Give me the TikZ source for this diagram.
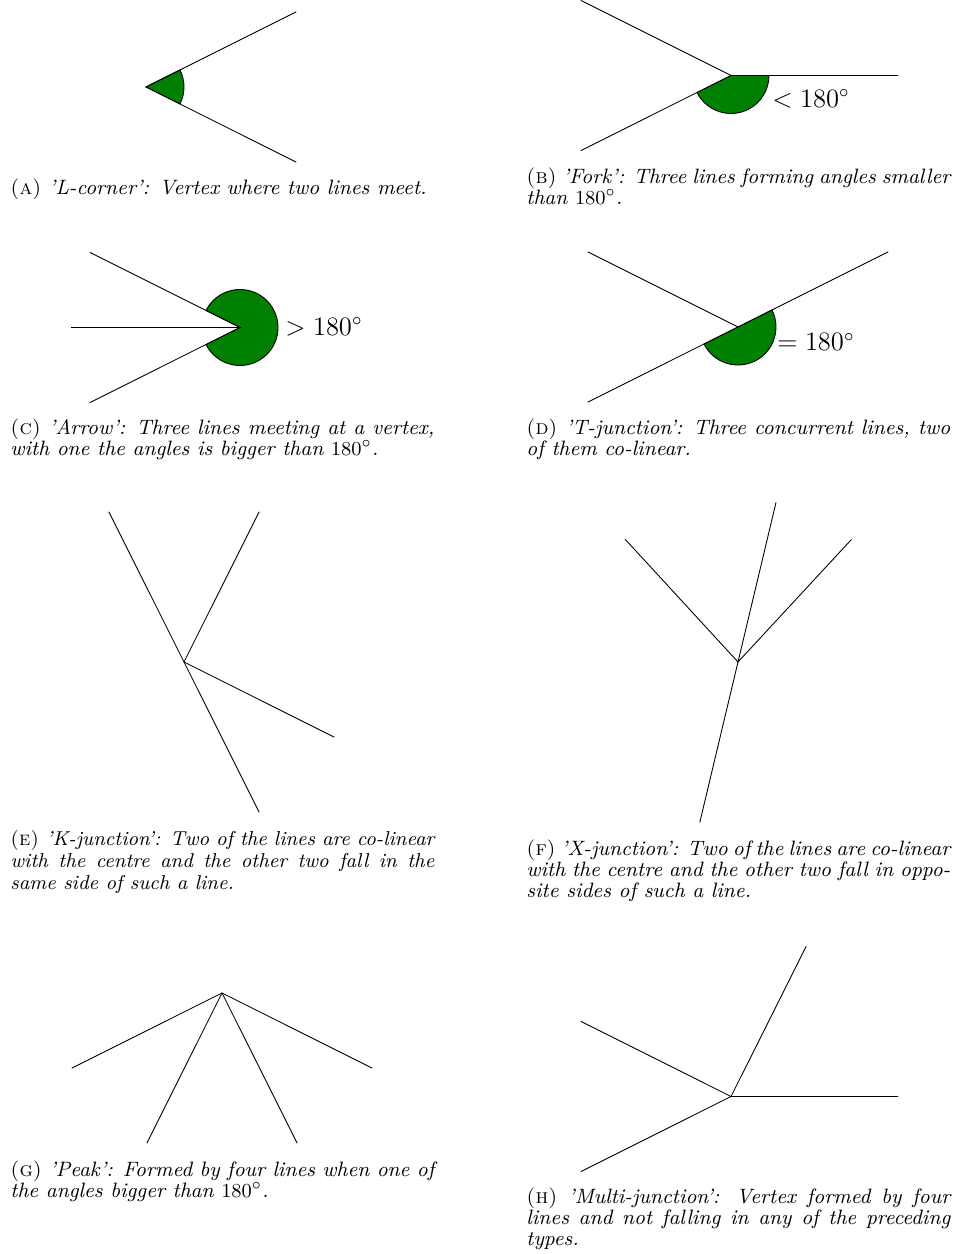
\documentclass[tikz,border=0pt]{standalone}
\usepackage{amsmath}
\usepackage{xcolor}
\definecolor{angfill}{RGB}{0,128,0}
\usetikzlibrary{calc}

\begin{document}
\begin{tikzpicture}[x=0.452pt, y=0.452pt]

% === Parámetros ===
\def\H{1254}   % alto total (px)
\def\L{168}    % largo de las líneas
\def\r{38}     % radio de los ángulos

\tikzset{
    edge/.style={black, line width=0.4pt},
    wedge/.style={fill=angfill, draw=black, line width=0.4pt},
    anglabel/.style={anchor=west, inner sep=0pt, font=\fontsize{12}{14}\selectfont},
    subcap/.style={anchor=north west, inner sep=0pt, text width=191.6pt,
        align=justify, font=\fontsize{9.4}{9.7}\selectfont\itshape}
}

\useasboundingbox (0,0) rectangle (956,\H);

% === (a) L-corner ===
\coordinate (A) at (146,{\H-87});
\coordinate (A1) at ([shift={(26.57:\L)}]A);
\coordinate (A2) at ([shift={(-26.57:\L)}]A);
\filldraw[wedge] (A) -- ([shift={(-26.57:\r)}]A) arc (-26.57:26.57:\r) -- cycle;
\draw[edge] (A1) -- (A) -- (A2);
\node[subcap] (capA) at (10,{\H-178})
    {\textup{\textsc{(a)}} 'L-corner': Vertex where two lines meet.};

% === (b) Fork ===
\coordinate (B) at (731,{\H-75.5});
\coordinate (B1) at ([shift={(0:167)}]B);
\coordinate (B2) at ([shift={(153.43:\L)}]B);
\coordinate (B3) at ([shift={(206.57:\L)}]B);
\filldraw[wedge] (B) -- ([shift={(206.57:\r)}]B) arc (206.57:360:\r) -- cycle;
\draw[edge] (B1) -- (B) -- (B2);
\draw[edge] (B) -- (B3);
\node[anglabel] (labB) at (772,{\H-99}) {$<180^\circ$};
\node[subcap] (capB) at (526,{\H-167})
    {\textup{\textsc{(b)}} 'Fork': Three lines forming angles smaller than $180^\circ$.};

% === (c) Arrow ===
\coordinate (C) at (240,{\H-327.5});
\coordinate (C1) at ([shift={(180:169)}]C);
\coordinate (C2) at ([shift={(153.43:\L)}]C);
\coordinate (C3) at ([shift={(206.57:\L)}]C);
\filldraw[wedge] (C) -- ([shift={(206.57:\r)}]C) arc (206.57:513.43:\r) -- cycle;
\draw[edge] (C1) -- (C) -- (C2);
\draw[edge] (C) -- (C3);
\node[anglabel] (labC) at (285,{\H-327}) {$>180^\circ$};
\node[subcap] (capC) at (10,{\H-418})
    {\textup{\textsc{(c)}} 'Arrow': Three lines meeting at a vertex, with one the angles is bigger than $180^\circ$.};

% === (d) T-junction ===
\coordinate (D) at (738,{\H-327});
\coordinate (D1) at ([shift={(153.43:\L)}]D);
\coordinate (D2) at ([shift={(26.57:\L)}]D);
\coordinate (D3) at ([shift={(206.57:\L)}]D);
\filldraw[wedge] (D) -- ([shift={(206.57:\r)}]D) arc (206.57:386.57:\r) -- cycle;
\draw[edge] (D1) -- (D);
\draw[edge] (D3) -- (D) -- (D2);
\node[anglabel] (labD) at (777,{\H-342}) {$=180^\circ$};
\node[subcap] (capD) at (526,{\H-418})
    {\textup{\textsc{(d)}} 'T-junction': Three concurrent lines, two of them co-linear.};

% === (e) K-junction ===
\coordinate (E) at (184,{\H-662});
\coordinate (E1) at ([shift={(116.57:\L)}]E);
\coordinate (E2) at ([shift={(-63.43:\L)}]E);
\coordinate (E3) at ([shift={(63.43:\L)}]E);
\coordinate (E4) at ([shift={(-26.57:\L)}]E);
\draw[edge] (E1) -- (E) -- (E2);
\draw[edge] (E3) -- (E) -- (E4);
\node[subcap, font=\fontsize{9.1}{9.9}\selectfont\itshape] (capE) at (10,{\H-830})
    {\textup{\textsc{(e)}} 'K-junction': Two of the lines are \mbox{co-linear} with the centre and the other two fall in the same side of such a line.};

% === (f) X-junction ===
\coordinate (F) at (738,{\H-662});
\coordinate (F1) at ([shift={(76.6:164)}]F);
\coordinate (F2) at ([shift={(256.6:165)}]F);
\coordinate (F3) at ([shift={(132.6:167)}]F);
\coordinate (F4) at ([shift={(47.2:167)}]F);
\draw[edge] (F1) -- (F) -- (F2);
\draw[edge] (F3) -- (F) -- (F4);
\node[subcap] (capF) at (526,{\H-839})
    {\textup{\textsc{(f)}} 'X-junction': Two of the lines are co-linear with the centre and the other two fall in oppo\-site sides of such a line.};

% === (g) Peak ===
\coordinate (G) at (222,{\H-993});
\coordinate (G1) at ([shift={(206.57:\L)}]G);
\coordinate (G2) at ([shift={(-26.57:\L)}]G);
\coordinate (G3) at ([shift={(243.43:\L)}]G);
\coordinate (G4) at ([shift={(-63.43:\L)}]G);
\draw[edge] (G1) -- (G) -- (G2);
\draw[edge] (G3) -- (G) -- (G4);
\node[subcap] (capG) at (10,{\H-1160})
    {\textup{\textsc{(g)}} 'Peak': Formed by four lines when one of the angles bigger than $180^\circ$.};

% === (h) Multi-junction ===
\coordinate (Hv) at (731,{\H-1096.5});
\coordinate (H1) at ([shift={(0:167)}]Hv);
\coordinate (H2) at ([shift={(63.43:\L)}]Hv);
\coordinate (H3) at ([shift={(153.43:\L)}]Hv);
\coordinate (H4) at ([shift={(206.57:\L)}]Hv);
\draw[edge] (H1) -- (Hv) -- (H2);
\draw[edge] (H3) -- (Hv) -- (H4);
\node[subcap] (capH) at (526,{\H-1187})
    {\textup{\textsc{(h)}} 'Multi-junction': Vertex formed by four lines and not falling in any of the preceding types.};

\end{tikzpicture}
\end{document}
